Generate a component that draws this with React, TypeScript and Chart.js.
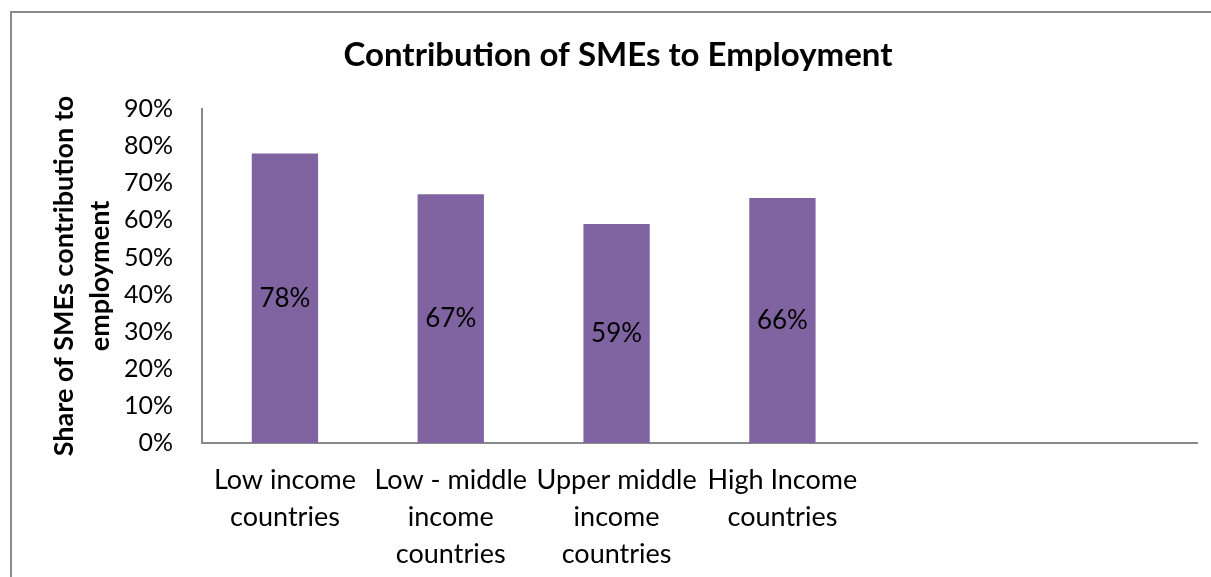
import React, { useEffect, useRef } from "react";
import { Chart, registerables } from "chart.js";

Chart.register(...registerables);

const TITLE = "Contribution of SMEs to Employment";
const Y_TITLE = ["Share of SMEs contribution to", "employment"];
const CATEGORIES: (string | string[])[] = [
  ["Low income", "countries"],
  ["Low - middle", "income", "countries"],
  ["Upper middle", "income", "countries"],
  ["High Income", "countries"],
  "",
  "",
];
const VALUES: (number | null)[] = [78, 67, 59, 66, null, null];
const Y_MIN = 0;
const Y_MAX = 90;
const Y_STEP = 10;

const FONT = "Lato, 'Open Sans', sans-serif";
const BAR_COLOR = "#8064A2";
const AXIS_COLOR = "#898989";

const titlePlugin = {
  id: "customTitle",
  afterDraw(chart: any) {
    const ctx = chart.ctx;
    ctx.save();
    ctx.font = `bold 33px ${FONT}`;
    ctx.fillStyle = "#000";
    ctx.textAlign = "center";
    ctx.textBaseline = "middle";
    ctx.fillText(TITLE, 618, 55);
    ctx.restore();
  },
};

const valueLabels = {
  id: "valueLabels",
  afterDatasetsDraw(chart: any) {
    const ctx = chart.ctx;
    const meta = chart.getDatasetMeta(0);
    ctx.save();
    ctx.font = `26px ${FONT}`;
    ctx.fillStyle = "#000";
    ctx.textAlign = "center";
    ctx.textBaseline = "middle";
    meta.data.forEach((bar: any, i: number) => {
      const v = VALUES[i];
      if (v == null) return;
      const { x, y, base } = bar.getProps(["x", "y", "base"], true);
      ctx.fillText(`${v}%`, x, (y + base) / 2);
    });
    ctx.restore();
  },
};

export default function App() {
  const ref = useRef<HTMLCanvasElement>(null);
  useEffect(() => {
    if (!ref.current) return;
    const chart = new Chart(ref.current, {
      type: "bar",
      data: {
        labels: CATEGORIES,
        datasets: [
          {
            data: VALUES,
            backgroundColor: BAR_COLOR,
            borderWidth: 0,
            categoryPercentage: 1,
            barPercentage: 0.4,
          },
        ],
      },
      options: {
        animation: false,
        responsive: false,
        layout: { padding: { left: 0, right: 14, top: 109, bottom: 0 } },
        plugins: {
          legend: { display: false },
          tooltip: { enabled: false },
          title: { display: false },
        },
        scales: {
          x: {
            grid: { display: false, drawTicks: false },
            border: { display: true, color: AXIS_COLOR, width: 2 },
            ticks: {
              color: "#000",
              font: { family: FONT, size: 27, lineHeight: 1.37 },
              padding: 19,
              maxRotation: 0,
              autoSkip: false,
            },
            afterFit: (scale: any) => {
              scale.height = 134;
            },
          },
          y: {
            min: Y_MIN,
            max: Y_MAX,
            grid: { display: false, drawTicks: false },
            border: { display: true, color: AXIS_COLOR, width: 2 },
            ticks: {
              stepSize: Y_STEP,
              color: "#000",
              font: { family: FONT, size: 25 },
              padding: 29,
              callback: (v: any) => `${v}%`,
            },
            title: {
              display: true,
              text: Y_TITLE,
              color: "#000",
              font: { family: FONT, size: 27, weight: "bold", lineHeight: 1.33 },
              padding: { top: 46, bottom: 0 },
            },
            afterFit: (scale: any) => {
              scale.width = 202;
            },
          },
        },
      },
      plugins: [titlePlugin, valueLabels],
    });
    return () => chart.destroy();
  }, []);

  return (
    <div style={{ position: "absolute", left: 0, top: 0, width: 1211, height: 577, overflow: "hidden", background: "#fff" }}>
      <div
        style={{
          position: "absolute",
          left: 10,
          top: 11,
          width: 1300,
          height: 700,
          borderLeft: `2px solid ${AXIS_COLOR}`,
          borderTop: `2px solid ${AXIS_COLOR}`,
        }}
      />
      <canvas ref={ref} width={1211} height={577} style={{ position: "absolute", left: 0, top: 0 }} />
    </div>
  );
}
